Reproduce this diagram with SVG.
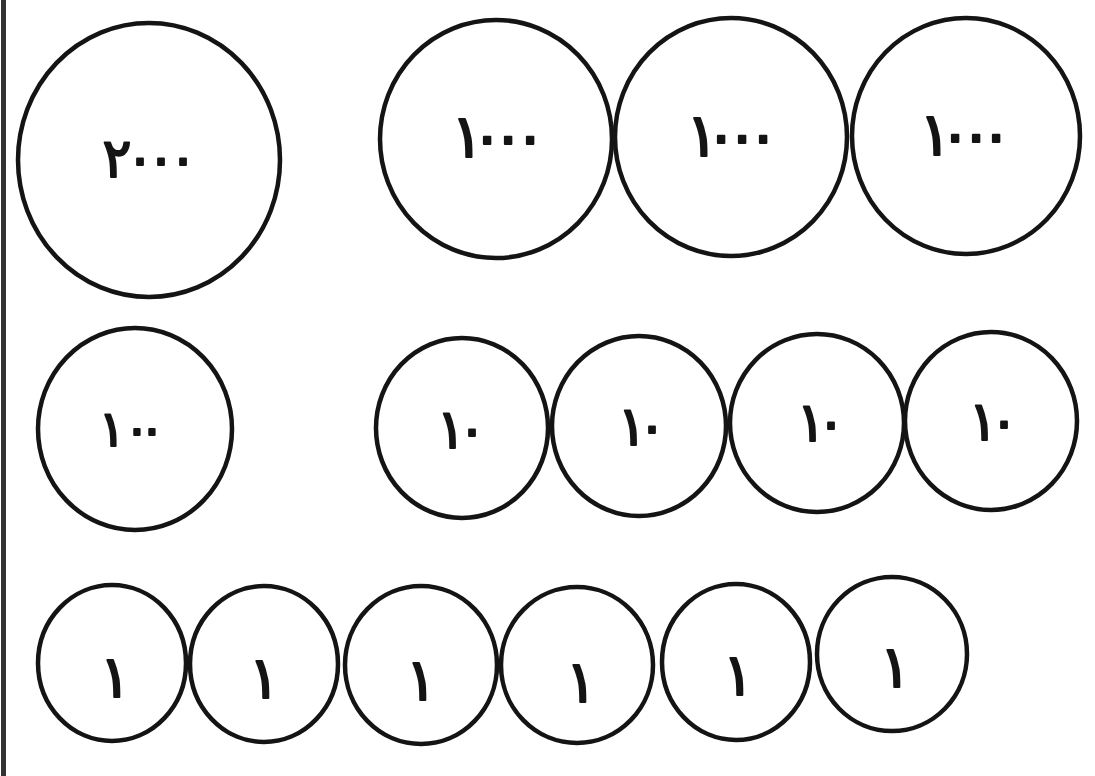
<svg xmlns="http://www.w3.org/2000/svg" width="1095" height="776" viewBox="0 0 1095 776">
<style>
.coin{fill:#ffffff;stroke:#141414;stroke-width:4.5}
.v{font-family:"DejaVu Sans",sans-serif;fill:#141414;stroke:#141414;stroke-width:2;stroke-linejoin:round;text-anchor:middle}
.t2000{font-size:54px}
.t1000{font-size:60px}
.t100{font-size:50px}
.t10{font-size:54px}
.t1{font-size:58px}
</style>
<rect x="0" y="0" width="1095" height="776" fill="#ffffff"/>
<rect x="1" y="0" width="5" height="776" fill="#333333"/>
<g id="coin-2000"><ellipse class="coin" cx="149" cy="160" rx="131" ry="137"/><text class="v t2000" x="117 140 161 183" y="177">۲۰۰۰</text></g>
<g id="coin-1000-a"><ellipse class="coin" cx="496" cy="139" rx="116" ry="119"/><text class="v t1000" x="467 487 508 530" y="157">۱۰۰۰</text></g>
<g id="coin-1000-b"><ellipse class="coin" cx="731" cy="137" rx="116" ry="119"/><text class="v t1000" x="702 721 742 763" y="156">۱۰۰۰</text></g>
<g id="coin-1000-c"><ellipse class="coin" cx="966" cy="136" rx="114" ry="118"/><text class="v t1000" x="935 955 976 996" y="155">۱۰۰۰</text></g>
<g id="coin-100"><ellipse class="coin" cx="135" cy="429" rx="97" ry="101"/><text class="v t100" x="112 137 152" y="446">۱۰۰</text></g>
<g id="coin-10-a"><ellipse class="coin" cx="462" cy="428" rx="86" ry="90"/><text class="v t10" x="451 472" y="448">۱۰</text></g>
<g id="coin-10-b"><ellipse class="coin" cx="639" cy="426" rx="87" ry="90"/><text class="v t10" x="632 652" y="445">۱۰</text></g>
<g id="coin-10-c"><ellipse class="coin" cx="817" cy="423" rx="87" ry="89"/><text class="v t10" x="811 831" y="441">۱۰</text></g>
<g id="coin-10-d"><ellipse class="coin" cx="991" cy="421" rx="86" ry="89"/><text class="v t10" x="983 1004" y="440">۱۰</text></g>
<g id="coin-1-a"><ellipse class="coin" cx="112" cy="663" rx="74" ry="78"/><text class="v t1" x="115" y="697">۱</text></g>
<g id="coin-1-b"><ellipse class="coin" cx="264" cy="664" rx="74" ry="78"/><text class="v t1" x="264" y="698">۱</text></g>
<g id="coin-1-c"><ellipse class="coin" cx="421" cy="665" rx="76" ry="79"/><text class="v t1" x="421" y="700">۱</text></g>
<g id="coin-1-d"><ellipse class="coin" cx="577" cy="665" rx="76" ry="78"/><text class="v t1" x="581" y="702">۱</text></g>
<g id="coin-1-e"><ellipse class="coin" cx="736" cy="662" rx="74" ry="78"/><text class="v t1" x="738" y="695">۱</text></g>
<g id="coin-1-f"><ellipse class="coin" cx="892" cy="654" rx="75" ry="77"/><text class="v t1" x="895" y="687">۱</text></g>
<g id="connectors"/>
</svg>
